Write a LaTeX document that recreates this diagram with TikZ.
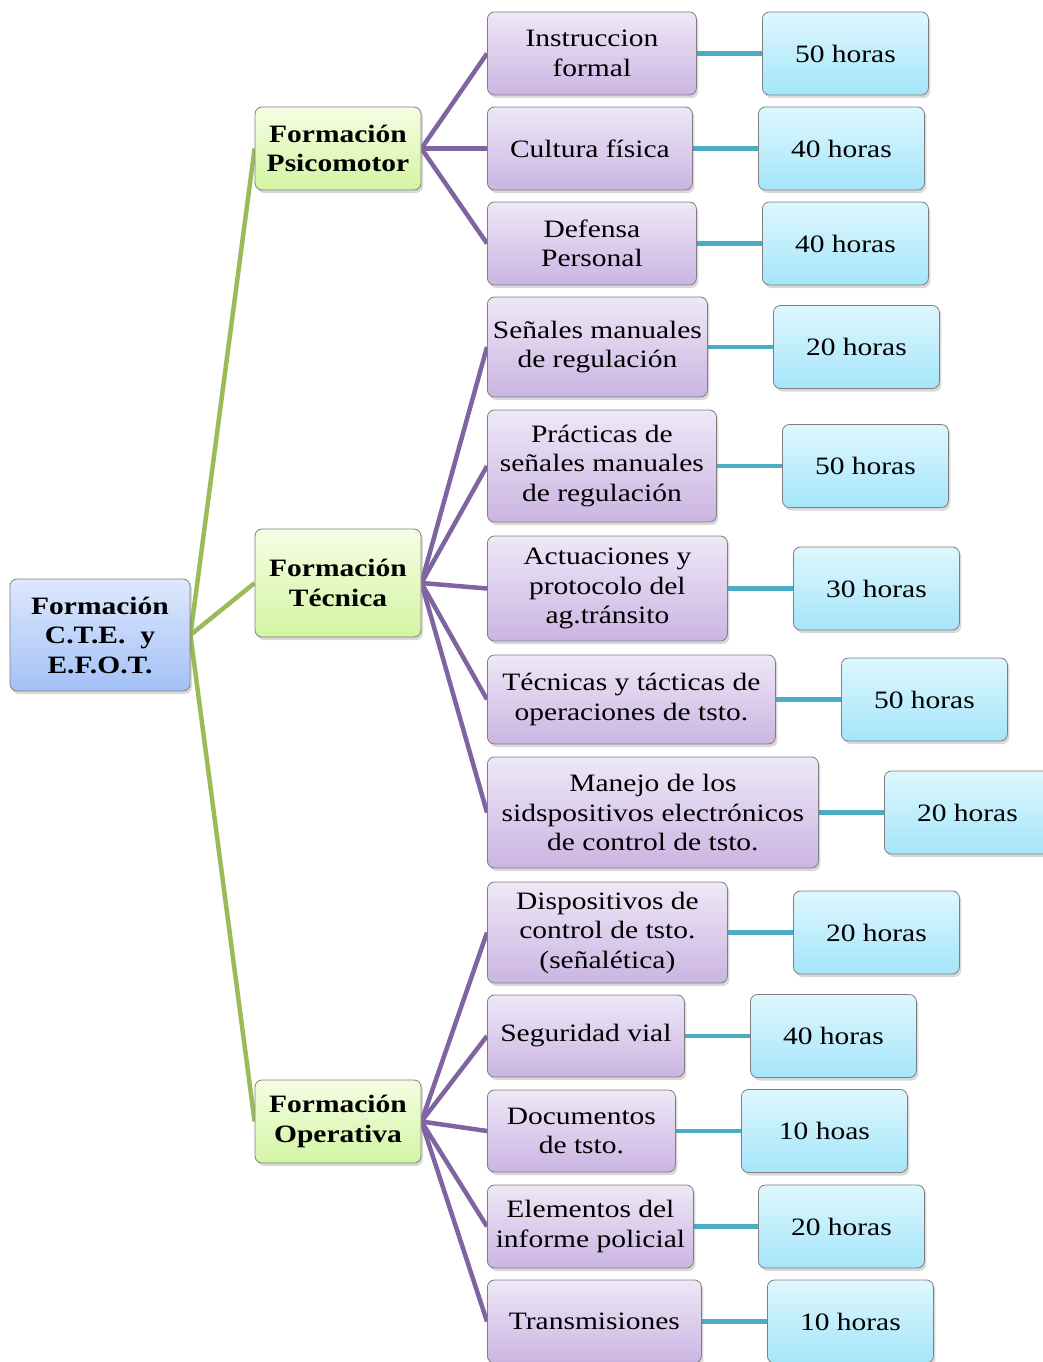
\documentclass[tikz,border=0pt]{standalone}
\usepackage{fontspec}
\setmainfont{Liberation Serif}[FakeStretch=1.18]
\usetikzlibrary{shadows,backgrounds}
\definecolor{purT}{HTML}{EEE8F7}
\definecolor{purB}{HTML}{CBB4E2}
\definecolor{cyaT}{HTML}{DEF7FE}
\definecolor{cyaB}{HTML}{A5E5FA}
\definecolor{grnT}{HTML}{F5FDE3}
\definecolor{grnB}{HTML}{D3F5A3}
\definecolor{bluT}{HTML}{DEE8FC}
\definecolor{bluB}{HTML}{A3C1F7}
\definecolor{grnL}{HTML}{9BBB59}
\definecolor{purL}{HTML}{8064A2}
\definecolor{cyaL}{HTML}{4BACC6}
\definecolor{brd}{HTML}{7F7F7F}
\tikzset{
  box/.style={rectangle, rounded corners=7pt, draw=brd, line width=0.8pt, align=center,
    inner sep=0pt, minimum height=83pt,
    drop shadow={opacity=0.3, shadow xshift=2pt, shadow yshift=-3pt},
    font=\fontsize{25}{29.5}\selectfont},
  rootbox/.style={box, top color=bluT, bottom color=bluB, font=\fontsize{25}{29.5}\selectfont\bfseries},
  lvlone/.style={box, top color=grnT, bottom color=grnB, minimum width=166pt, font=\fontsize{25}{29.5}\selectfont\bfseries},
  topic/.style={box, top color=purT, bottom color=purB, anchor=west},
  hours/.style={box, top color=cyaT, bottom color=cyaB, anchor=west, minimum width=166pt},
  gline/.style={draw=grnL, line width=4.5pt},
  pline/.style={draw=purL, line width=4.5pt},
  cline/.style={draw=cyaL, line width=4.5pt},
}
\begin{document}
\begin{tikzpicture}[x=1pt,y=1pt]
\useasboundingbox (0,0) rectangle (1043,-1362);
\node[rootbox, minimum width=180pt, minimum height=112pt] (root) at (100,-635) {Formación\\C.T.E.~~y\\E.F.O.T.};
\node[lvlone] (psi) at (338,-148.5) {Formación\\Psicomotor};
\node[lvlone, minimum height=108pt] (tec) at (338,-583) {Formación\\Técnica};
\node[lvlone] (ope) at (338,-1121.5) {Formación\\Operativa};

\node[topic, minimum width=209pt] (p1) at (487,-53.5) {Instruccion\\formal};
\node[topic, minimum width=205pt] (p2) at (487,-148.5) {Cultura física};
\node[topic, minimum width=209pt] (p3) at (487,-243.5) {Defensa\\Personal};
\node[topic, minimum width=220pt, minimum height=100pt] (p4) at (487,-347) {Señales manuales\\de regulación};
\node[topic, minimum width=229pt, minimum height=112pt] (p5) at (487,-466) {Prácticas de\\señales manuales\\de regulación};
\node[topic, minimum width=240pt, minimum height=105pt] (p6) at (487,-588.5) {Actuaciones y\\protocolo del\\ag.tránsito};
\node[topic, minimum width=288pt, minimum height=89pt] (p7) at (487,-699.5) {Técnicas y tácticas de\\operaciones de tsto.};
\node[topic, minimum width=331pt, minimum height=111pt] (p8) at (487,-812.5) {Manejo de los\\sidspositivos electrónicos\\de control de tsto.};
\node[topic, minimum width=240pt, minimum height=101pt] (p9) at (487,-932.5) {Dispositivos de\\control de tsto.\\(señalética)};
\node[topic, minimum width=197pt, minimum height=82pt] (p10) at (487,-1036) {Seguridad vial};
\node[topic, minimum width=188pt, minimum height=82pt] (p11) at (487,-1131) {Documentos\\de tsto.};
\node[topic, minimum width=206pt] (p12) at (487,-1226.5) {Elementos del\\informe policial};
\node[topic, minimum width=214pt] (p13) at (487,-1321.5) {Transmisiones};

\node[hours] (h1) at (762,-53.5) {50 horas};
\node[hours] (h2) at (758,-148.5) {40 horas};
\node[hours] (h3) at (762,-243.5) {40 horas};
\node[hours] (h4) at (773,-347) {20 horas};
\node[hours] (h5) at (782,-466) {50 horas};
\node[hours] (h6) at (793,-588.5) {30 horas};
\node[hours] (h7) at (841,-699.5) {50 horas};
\node[hours] (h8) at (884,-812.5) {20 horas};
\node[hours] (h9) at (793,-932.5) {20 horas};
\node[hours] (h10) at (750,-1036) {40 horas};
\node[hours] (h11) at (741,-1131) {10 hoas};
\node[hours] (h12) at (758,-1226.5) {20 horas};
\node[hours] (h13) at (767,-1321.5) {10 horas};

\begin{scope}[on background layer]
\foreach \t in {psi,tec,ope} \draw[gline] (root.east) -- (\t.west);
\foreach \p in {p1,p2,p3} \draw[pline] (psi.east) -- (\p.west);
\foreach \p in {p4,p5,p6,p7,p8} \draw[pline] (tec.east) -- (\p.west);
\foreach \p in {p9,p10,p11,p12,p13} \draw[pline] (ope.east) -- (\p.west);
\foreach \i in {1,...,13} \draw[cline] (p\i.east) -- (h\i.west);
\end{scope}
\end{tikzpicture}
\end{document}
